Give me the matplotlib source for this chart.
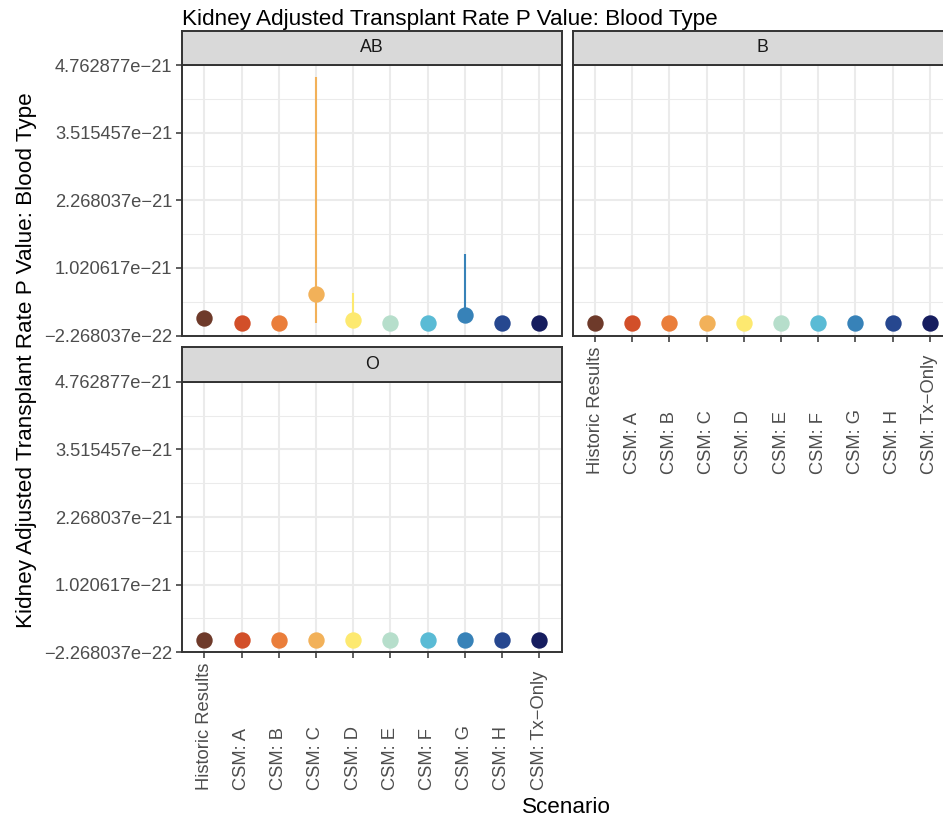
import matplotlib
matplotlib.use("Agg")
import matplotlib.pyplot as plt
from matplotlib.transforms import blended_transform_factory, offset_copy

# ---------------- data ----------------
scenarios = ["Historic Results", "CSM: A", "CSM: B", "CSM: C", "CSM: D",
             "CSM: E", "CSM: F", "CSM: G", "CSM: H", "CSM: Tx\u2212Only"]
colors = ["#6E3A2A", "#D24F29", "#EA7E3B", "#F2B159", "#FDE970",
          "#B6DECB", "#5ABBD5", "#3782B8", "#26478F", "#161D5F"]
panels = ["AB", "B", "O"]

ab_est = [1.02e-22, 0, 0, 5.4e-22, 5.2e-23, 0, 0, 1.45e-22, 0, 0]
ab_lo = [1.02e-22, 0, 0, 0, 0, 0, 0, 0, 0, 0]
ab_hi = [1.02e-22, 0, 0, 4.536074e-21, 5.65e-22, 0, 0, 1.27e-21, 0, 0]

b_est = [0, 0, 0, 0, 0, 0, 0, 0, 0, 0]
b_lo = [0, 0, 0, 0, 0, 0, 0, 0, 0, 0]
b_hi = [0, 0, 0, 0, 0, 0, 0, 0, 0, 0]

o_est = [0, 0, 0, 0, 0, 0, 0, 0, 0, 0]
o_lo = [0, 0, 0, 0, 0, 0, 0, 0, 0, 0]
o_hi = [0, 0, 0, 0, 0, 0, 0, 0, 0, 0]

ytick_labels = ["\u22122.268037e\u221222", "1.020617e\u221221", "2.268037e\u221221",
                "3.515457e\u221221", "4.762877e\u221221"]

title = "Kidney Adjusted Transplant Rate P Value: Blood Type"
ylabel = "Kidney Adjusted Transplant Rate P Value: Blood Type"
xlabel = "Scenario"

# ---------------- layout ----------------
W, H = 943, 819
plt.rcParams['font.family'] = ['Liberation Sans', 'DejaVu Sans']
fig = plt.figure(figsize=(W / 100, H / 100), dpi=100)
fig.patch.set_facecolor("white")


def px_axes(x0, y0, x1, y1):
    return fig.add_axes([x0 / W, 1 - y1 / H, (x1 - x0) / W, (y1 - y0) / H])


ytick_vals = [float(s.replace("\u2212", "-")) for s in ytick_labels]
all_lo = ab_lo + b_lo + o_lo + ab_est + b_est + o_est
all_hi = ab_hi + b_hi + o_hi + ab_est + b_est + o_est
lo, hi = min(all_lo), max(all_hi)
pad = 0.05 * (hi - lo)
ylim = (lo - pad, hi + pad)
minor = [(a + b) / 2 for a, b in zip(ytick_vals[:-1], ytick_vals[1:])]

BORDER = "#333333"
GRID = "#EBEBEB"
TICKFS = 13.2

specs = [
    ("AB", ab_est, ab_lo, ab_hi, (182, 65, 561.5, 335.5), (182, 30.5, 561.5, 65), True, False),
    ("B", b_est, b_lo, b_hi, (572.7, 65, 952.2, 335.5), (572.7, 30.5, 952.2, 65), False, True),
    ("O", o_est, o_lo, o_hi, (182, 381.7, 561.5, 652.3), (182, 346.7, 561.5, 381.7), True, True),
]

xs = list(range(len(scenarios)))
for name, est, elo, ehi, pbox, sbox, show_y, show_x in specs:
    ax = px_axes(*pbox)
    ax.set_xlim(-0.6, len(scenarios) - 0.4)
    ax.set_ylim(*ylim)
    # grid
    for m in minor:
        ax.axhline(m, color=GRID, lw=0.75, zorder=0)
    for t in ytick_vals:
        ax.axhline(t, color=GRID, lw=1.45, zorder=0)
    for x in xs:
        ax.axvline(x, color=GRID, lw=1.45, zorder=0)
    # error bars
    for x, l, h, c in zip(xs, elo, ehi, colors):
        if h > l:
            ax.vlines(x, l, h, color=c, lw=1.5, zorder=2)
    # points
    for x, v, c in zip(xs, est, colors):
        ax.plot([x], [v], "o", ms=11.8, color=c, mec="none", zorder=3)
    for sp in ax.spines.values():
        sp.set_color(BORDER)
        sp.set_linewidth(1.4)
    ax.set_yticks(ytick_vals)
    ax.set_xticks(xs)
    if show_y:
        ax.set_yticklabels(ytick_labels, fontsize=TICKFS, color="#4D4D4D")
        ax.tick_params(axis="y", length=4, width=1.1, color=BORDER, pad=3.0)
    else:
        ax.tick_params(axis="y", left=False, labelleft=False)
    if show_x:
        ax.tick_params(axis="x", length=4, width=1.1, color=BORDER, labelbottom=False)
        trans = offset_copy(blended_transform_factory(ax.transData, ax.transAxes),
                            fig=fig, x=0, y=-138 * 0.72, units="points")
        for x, lab in zip(xs, scenarios):
            ax.text(x, 0, lab, rotation=90, ha="center", va="bottom", fontsize=TICKFS,
                    color="#4D4D4D", transform=trans, clip_on=False)
    else:
        ax.tick_params(axis="x", bottom=False, labelbottom=False)
    # strip
    sx = px_axes(*sbox)
    sx.set_facecolor("#D9D9D9")
    sx.set_xticks([])
    sx.set_yticks([])
    for sp in sx.spines.values():
        sp.set_color(BORDER)
        sp.set_linewidth(1.4)
    sx.text(0.5, 0.5, name, ha="center", va="center", fontsize=12.8,
            color="#1A1A1A", transform=sx.transAxes)

fig.text(182 / W, 1 - 25 / H, title, ha="left", va="baseline", fontsize=16.2, color="black")
fig.text(566 / W, 1 - 812.7 / H, xlabel, ha="center", va="baseline", fontsize=16.2, color="black")
fig.text(27 / W, 1 - 360 / H, ylabel, ha="center", va="center", rotation=90,
         fontsize=16.2, color="black")

fig.savefig("out.png", dpi=100, facecolor="white")
